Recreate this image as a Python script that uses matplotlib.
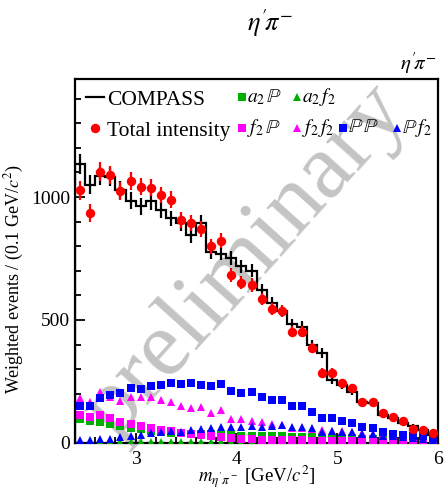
import numpy as np
import matplotlib.pyplot as plt
from matplotlib.lines import Line2D

plt.rcParams['font.family'] = ['Liberation Serif', 'DejaVu Serif']
plt.rcParams['mathtext.fontset'] = 'stix'

# bin centres, 0.1 GeV bins from 2.4 to 6.0
mass = [2.45, 2.55, 2.65, 2.75, 2.85, 2.95, 3.05, 3.15, 3.25, 3.35, 3.45, 3.55,
        3.65, 3.75, 3.85, 3.95, 4.05, 4.15, 4.25, 4.35, 4.45, 4.55, 4.65, 4.75,
        4.85, 4.95, 5.05, 5.15, 5.25, 5.35, 5.45, 5.55, 5.65, 5.75, 5.85, 5.95]
edges = [2.4, 2.5, 2.6, 2.7, 2.8, 2.9, 3.0, 3.1, 3.2, 3.3, 3.4, 3.5, 3.6, 3.7,
         3.8, 3.9, 4.0, 4.1, 4.2, 4.3, 4.4, 4.5, 4.6, 4.7, 4.8, 4.9, 5.0, 5.1,
         5.2, 5.3, 5.4, 5.5, 5.6, 5.7, 5.8, 5.9, 6.0]

compass = [1135, 1050, 1085, 1080, 1030, 985, 962, 982, 948, 913, 895, 845,
           895, 778, 770, 752, 718, 700, 622, 570, 535, 482, 472, 398,
           365, 256, 236, 209, 168, 161, 114, 100, 80, 69, 53, 33]
compass_err = [40, 38, 38, 37, 36, 35, 34, 34, 33, 32, 32, 31,
               31, 29, 28, 28, 27, 27, 25, 24, 23, 22, 22, 20,
               19, 16, 15, 14, 13, 12, 11, 10, 9, 8, 7, 6]

total = [1028, 934, 1103, 1090, 1024, 1066, 1042, 1038, 1008, 990, 906, 893,
         870, 800, 823, 684, 651, 642, 586, 543, 535, 452, 452, 385,
         286, 286, 245, 225, 167, 167, 121, 107, 87, 56, 53, 39]
total_err = [38, 36, 38, 37, 36, 36, 35, 35, 34, 34, 32, 32,
             31, 30, 30, 28, 27, 27, 25, 24, 24, 22, 22, 20,
             18, 18, 16, 15, 13, 13, 11, 10, 9, 7, 7, 6]

a2_pom = [98, 88, 85, 78, 68, 60, 55, 48, 45, 42, 40, 38,
          36, 35, 34, 32, 30, 29, 28, 27, 26, 25, 24, 23,
          22, 20, 19, 18, 17, 16, 14, 12, 10, 8, 6, 4]
a2_f2 = [5, 5, 5, 4, 4, 4, 4, 4, 4, 3, 3, 3,
         3, 3, 3, 3, 3, 3, 3, 2, 2, 2, 2, 2,
         2, 2, 2, 2, 2, 1, 1, 1, 1, 1, 1, 1]
f2_pom = [114, 107, 114, 100, 83, 77, 69, 60, 53, 49, 42, 37,
          33, 28, 23, 19, 16, 15, 12, 12, 11, 10, 10, 9,
          8, 8, 7, 6, 6, 5, 4, 4, 3, 2, 1, 0]
f2_f2 = [182, 168, 209, 188, 172, 186, 188, 186, 175, 168, 148, 141,
         145, 123, 134, 98, 98, 91, 83, 77, 73, 62, 60, 56,
         52, 50, 47, 44, 40, 38, 34, 30, 28, 24, 22, 20]
pom_pom = [148, 148, 182, 195, 202, 222, 218, 232, 236, 245, 240, 243,
           236, 232, 240, 213, 202, 206, 186, 174, 174, 152, 148, 126,
           100, 100, 87, 80, 65, 60, 43, 38, 33, 26, 26, 19]
pom_f2 = [12, 12, 16, 16, 22, 28, 33, 39, 43, 50, 46, 52,
          56, 60, 66, 64, 64, 69, 66, 69, 73, 64, 66, 60,
          46, 48, 43, 46, 37, 37, 30, 26, 22, 18, 15, 12]

green = '#00b000'
magenta = '#ff00ff'
blue = '#0000ff'
red = '#ff0000'

fig = plt.figure(figsize=(4.47, 4.91), dpi=100)
ax = fig.add_axes([0.168, 0.098, 0.812, 0.741])

ms = 6.3
ax.plot(mass, a2_pom, 's', color=green, ms=ms, mew=0, zorder=3)
ax.plot(mass, a2_f2, '^', color=green, ms=ms, mew=0, zorder=3)
ax.plot(mass, f2_pom, 's', color=magenta, ms=ms, mew=0, zorder=4)
ax.plot(mass, f2_f2, '^', color=magenta, ms=ms, mew=0, zorder=4)
ax.plot(mass, pom_pom, 's', color=blue, ms=ms, mew=0, zorder=5)
ax.plot(mass, pom_f2, '^', color=blue, ms=ms, mew=0, zorder=5)

# measured spectrum: histogram with vertical error bars
ax.stairs(compass, edges, color='black', lw=1.6, zorder=6)
ax.errorbar(mass, compass, yerr=compass_err, fmt='none', ecolor='black',
            elinewidth=1.6, capsize=0, zorder=6)

ax.errorbar(mass, total, yerr=total_err, fmt='o', color=red, ms=6.8, mew=0,
            elinewidth=1.6, capsize=0, zorder=7)

ax.text(0.47, 0.5, 'preliminary', transform=ax.transAxes, rotation=48,
        fontsize=68, color='#c4c4c4', ha='center', va='center', zorder=1)

ax.set_xlim(2.4, 6.0)
ax.set_ylim(0, 1480)
ax.set_xticks([3, 4, 5, 6])
ax.set_xticks(np.arange(2.4, 6.01, 0.2), minor=True)
ax.set_yticks([0, 500, 1000])
ax.set_yticks(np.arange(0, 1401, 100), minor=True)
ax.tick_params(which='both', direction='in', labelsize=14)
ax.tick_params(which='major', length=7, width=1.3)
ax.tick_params(which='minor', length=4, width=1.3)
ax.tick_params(axis='x', pad=6)
for s in ax.spines.values():
    s.set_linewidth(1.6)

ax.set_xlabel(r"$m_{\eta'\pi^-}$ [GeV/$c^2$]", fontsize=13.5, labelpad=-3)
ax.set_ylabel(r"Weighted events / (0.1 GeV/$c^2$)", fontsize=13)
ax.yaxis.set_label_coords(-0.135, 0.45)

# legend, first column: data and total intensity
h_main = [Line2D([], [], color='black', lw=1.6),
          Line2D([], [], ls='none', marker='o', color=red, ms=6.8, mew=0)]
ax.legend(h_main, ['COMPASS', 'Total intensity'], loc='upper left',
          bbox_to_anchor=(0.0, 1.0), frameon=False, fontsize=15.5,
          handlelength=0.85, handletextpad=0.15, borderaxespad=0.05,
          borderpad=0.45, labelspacing=0.5)

# legend, wave components: (marker, colour, label, column x, row y) in axes units
comp_keys = [
    ('s', green, r'$a_2\,\mathbb{P}$', 0.459, 0.951),
    ('^', green, r'$a_2\,f_2$', 0.611, 0.951),
    ('s', magenta, r'$f_2\,\mathbb{P}$', 0.459, 0.866),
    ('^', magenta, r'$f_2\,f_2$', 0.611, 0.866),
    ('s', blue, r'$\mathbb{P}\,\mathbb{P}$', 0.738, 0.866),
    ('^', blue, r'$\mathbb{P}\,f_2$', 0.887, 0.866),
]
for mk, col, lab, kx, ky in comp_keys:
    ax.plot([kx], [ky], mk, color=col, ms=ms, mew=0, transform=ax.transAxes,
            clip_on=False, zorder=8)
    ax.text(kx + 0.015, ky, lab, transform=ax.transAxes, fontsize=14,
            ha='left', va='center', zorder=8)

fig.text(0.604, 0.952, r"$\eta^{\prime}\!\pi^{-}$", fontsize=19, ha='center',
         va='center')
fig.text(0.976, 0.872, r"$\eta^{\prime}\!\pi^{-}$", fontsize=15, ha='right',
         va='center')

fig.savefig('out.png', dpi=100)
